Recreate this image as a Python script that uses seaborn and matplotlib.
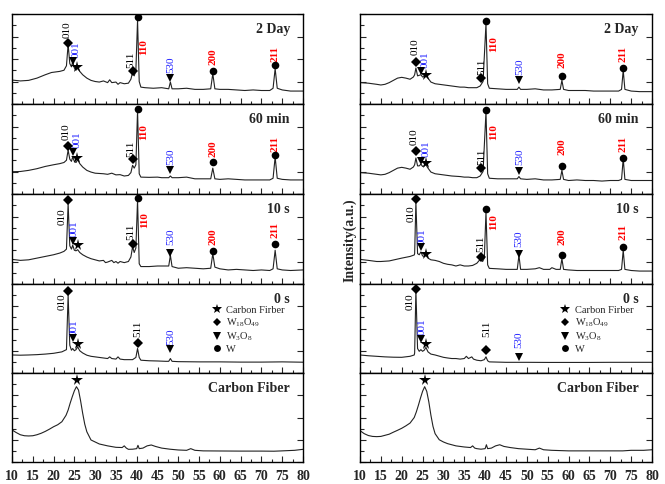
import matplotlib
matplotlib.use("Agg")
import matplotlib.pyplot as plt
import seaborn as sns
import pandas as pd
from matplotlib.ticker import MultipleLocator
from matplotlib.lines import Line2D

# ---------------- data (2theta in degrees, intensity in a.u.) ----------------
# Left column
L_2day_x = [10, 12, 14, 16, 18, 19.5, 20.5, 21.5, 22.5, 23.1, 23.5, 23.9, 24.3, 24.6, 25.0, 25.4, 25.8, 26.3, 27, 28, 29, 30, 31, 32, 33, 33.5, 34, 35, 35.5, 36, 37, 38, 38.6, 39.0, 39.4, 39.8, 40.2, 40.6, 41, 42, 44, 46, 47.7, 48.1, 48.5, 50, 52, 54, 56, 57.8, 58.3, 58.8, 60, 62, 64, 66, 68, 70, 72, 72.8, 73.3, 73.8, 75, 77, 80]
L_2day_y = [2.13, 2.05, 2.1, 2.3, 2.6, 2.8, 2.85, 2.9, 3.0, 3.4, 5.3, 3.6, 3.3, 3.75, 3.2, 3.0, 3.3, 2.9, 2.6, 2.3, 2.1, 2.0, 1.95, 2.05, 1.9, 2.15, 1.9, 1.95, 1.75, 1.9, 1.8, 1.85, 2.2, 2.8, 2.5, 3.0, 7.45, 2.0, 1.5, 1.45, 1.4, 1.45, 1.35, 1.95, 1.35, 1.35, 1.4, 1.3, 1.3, 1.35, 2.7, 1.35, 1.3, 1.3, 1.25, 1.2, 1.25, 1.2, 1.2, 1.4, 3.15, 1.4, 1.25, 1.15, 1.15]

L_60min_x = [10, 12, 14, 16, 18, 20, 21.5, 22.5, 23.1, 23.5, 23.9, 24.3, 24.6, 25.0, 25.4, 25.8, 26.3, 27, 28, 29, 30, 32, 33, 34, 35, 36, 37, 38, 38.6, 39.0, 39.4, 39.8, 40.2, 40.6, 41, 43, 45, 46, 47.7, 48.1, 48.5, 50, 52, 54, 56, 57.8, 58.3, 58.8, 60, 62, 64, 66, 68, 70, 72, 72.8, 73.3, 73.8, 75, 77, 80]
L_60min_y = [1.98, 2.0, 2.1, 2.25, 2.45, 2.6, 2.7, 2.8, 3.0, 3.9, 3.1, 2.9, 3.3, 2.9, 2.8, 3.05, 2.7, 2.4, 2.1, 1.95, 1.85, 1.8, 1.75, 1.85, 1.7, 1.72, 1.6, 1.65, 1.9, 2.55, 2.3, 2.6, 7.4, 1.8, 1.5, 1.48, 1.5, 1.45, 1.45, 1.6, 1.45, 1.45, 1.5, 1.35, 1.35, 1.35, 2.3, 1.35, 1.3, 1.35, 1.3, 1.25, 1.25, 1.25, 1.25, 1.4, 3.3, 1.4, 1.3, 1.25, 1.25]

L_10s_x = [10, 12, 14, 16, 18, 20, 21.5, 22.5, 23.1, 23.5, 23.9, 24.3, 24.6, 25.0, 25.4, 25.8, 26.3, 27, 28, 29, 30, 31, 32, 32.5, 33, 34, 34.5, 35, 35.5, 36, 37, 38, 38.6, 39.0, 39.4, 39.8, 40.2, 40.6, 41, 43, 45, 47, 47.7, 48.1, 48.5, 50, 52, 54, 56, 57.8, 58.3, 58.8, 60, 62, 64, 66, 68, 70, 72, 72.8, 73.3, 73.8, 75, 77, 80]
L_10s_y = [2.19, 2.1, 2.15, 2.3, 2.45, 2.6, 2.75, 2.9, 3.1, 7.15, 3.4, 3.1, 3.45, 3.0, 2.95, 3.05, 2.8, 2.6, 2.4, 2.25, 2.15, 2.05, 2.1, 1.9, 1.95, 2.1, 1.9, 2.0, 1.85, 2.0, 1.9, 2.0, 2.4, 3.3, 2.8, 3.2, 7.45, 1.8, 1.55, 1.55, 1.6, 1.6, 1.6, 2.55, 1.55, 1.4, 1.45, 1.4, 1.35, 1.4, 2.7, 1.5, 1.35, 1.25, 1.3, 1.25, 1.2, 1.25, 1.2, 1.35, 3.0, 1.35, 1.25, 1.2, 1.25]

L_0s_x = [10, 12, 14, 16, 18, 20, 22, 23.1, 23.5, 23.9, 24.3, 24.6, 25.0, 25.4, 25.8, 26.3, 27, 28, 29, 30, 31, 32, 33, 33.5, 34, 35, 35.5, 36, 37, 38, 39, 39.8, 40.2, 40.6, 41, 43, 45, 47, 47.7, 48.1, 48.5, 50, 55, 60, 65, 70, 75, 80]
L_0s_y = [1.62, 1.6, 1.62, 1.65, 1.7, 1.77, 1.9, 2.1, 7.0, 2.5, 2.05, 2.2, 2.0, 2.1, 2.35, 2.0, 1.8, 1.6, 1.5, 1.45, 1.4, 1.35, 1.3, 1.45, 1.3, 1.25, 1.45, 1.25, 1.2, 1.2, 1.2, 1.4, 2.2, 1.4, 1.15, 1.1, 1.08, 1.05, 1.05, 1.3, 1.05, 1.02, 1.0, 1.0, 0.98, 0.98, 1.0, 0.97]

L_cf_x = [10, 11, 12, 13, 14, 15, 16, 17, 18, 19, 20, 21, 22, 23, 23.5, 24, 24.5, 25, 25.5, 26, 26.5, 27, 27.5, 28, 29, 30, 31, 33, 35, 36.5, 37, 37.5, 38, 39, 40, 40.3, 40.6, 41.5, 42.5, 43.5, 44.5, 46, 48, 50, 52, 53, 54, 56, 60, 65, 70, 73, 75, 78, 80]
L_cf_y = [2.88, 2.65, 2.45, 2.36, 2.34, 2.36, 2.45, 2.58, 2.75, 2.95, 3.17, 3.35, 3.62, 4.2, 4.67, 5.3, 5.87, 6.4, 6.77, 6.47, 5.5, 4.38, 3.4, 2.72, 1.98, 1.8, 1.62, 1.45, 1.32, 1.3, 1.45, 1.25, 1.14, 1.15, 1.2, 1.5, 1.2, 1.25, 1.45, 1.53, 1.4, 1.25, 1.15, 1.08, 1.05, 1.2, 1.05, 1.0, 0.99, 0.98, 0.98, 0.97, 1.0, 1.05, 1.14]

# Right column
R_2day_x = [10, 12, 14, 15, 16, 17, 18, 19, 20, 21, 22, 22.8, 23.1, 23.4, 23.8, 24.2, 24.6, 25.0, 25.4, 25.8, 26.3, 27, 28, 30, 32, 34, 35, 36, 37, 38, 38.8, 39.5, 40.2, 40.6, 41, 43, 45, 47.7, 48.1, 48.5, 50, 52, 54, 56, 58, 58.4, 58.8, 60, 62, 64, 66, 68, 70, 72, 72.7, 73.1, 73.5, 75, 77, 80]
R_2day_y = [1.9, 1.85, 1.75, 1.69, 1.75, 1.9, 2.1, 2.3, 2.37, 2.3, 2.2, 2.4, 2.6, 3.2, 2.5, 2.55, 2.6, 2.4, 2.45, 2.6, 2.3, 1.95, 1.8, 1.7, 1.6, 1.5, 1.5, 1.45, 1.45, 1.45, 1.6, 2.0, 7.15, 1.8, 1.4, 1.35, 1.3, 1.3, 1.5, 1.3, 1.3, 1.35, 1.25, 1.25, 1.3, 2.1, 1.3, 1.2, 1.2, 1.2, 1.15, 1.15, 1.15, 1.15, 1.3, 3.0, 1.3, 1.15, 1.1, 1.1]

R_60min_x = [10, 12, 14, 15, 16, 17, 18, 19, 20, 21, 22, 22.8, 23.1, 23.4, 23.8, 24.2, 24.6, 25.0, 25.4, 25.8, 26.3, 27, 28, 30, 32, 34, 35, 36, 37, 38, 38.8, 39.5, 40.2, 40.6, 41, 43, 45, 47.7, 48.1, 48.5, 50, 52, 54, 56, 58, 58.4, 58.8, 60, 62, 64, 66, 68, 70, 72, 72.7, 73.1, 73.5, 75, 77, 80]
R_60min_y = [1.9, 1.85, 1.75, 1.7, 1.75, 1.9, 2.1, 2.3, 2.37, 2.3, 2.2, 2.4, 2.6, 3.2, 2.5, 2.5, 2.65, 2.45, 2.5, 2.6, 2.3, 1.95, 1.8, 1.7, 1.6, 1.55, 1.5, 1.5, 1.45, 1.45, 1.6, 2.0, 7.3, 1.8, 1.4, 1.35, 1.35, 1.35, 1.55, 1.35, 1.3, 1.35, 1.25, 1.25, 1.3, 2.1, 1.3, 1.2, 1.25, 1.2, 1.2, 1.15, 1.2, 1.2, 1.3, 3.15, 1.3, 1.2, 1.2, 1.2]

R_10s_x = [10, 12, 14, 15, 17, 20, 22, 23, 23.1, 23.4, 23.8, 24.2, 24.6, 25.0, 25.4, 25.8, 26.3, 27, 28, 29, 30, 31, 32, 33, 34, 35, 36, 37, 38, 38.6, 39.0, 39.4, 39.8, 40.2, 40.6, 41, 43, 45, 47.7, 48.1, 48.5, 50, 52, 53, 54, 55.5, 56, 57, 58, 58.4, 58.8, 60, 62, 64, 66, 68, 70, 72, 72.7, 73.1, 73.5, 75, 77, 80]
R_10s_y = [2.19, 2.1, 2.0, 2.0, 2.05, 2.3, 2.45, 2.58, 2.7, 7.3, 2.7, 2.6, 2.85, 2.5, 2.45, 2.55, 2.3, 2.15, 2.1, 2.0, 1.84, 1.75, 1.7, 1.6, 1.7, 1.6, 1.6, 1.65, 1.84, 2.1, 2.2, 2.0, 2.3, 6.4, 1.7, 1.39, 1.35, 1.3, 1.3, 2.55, 1.3, 1.3, 1.35, 1.45, 1.3, 1.3, 1.45, 1.3, 1.3, 2.25, 1.3, 1.25, 1.2, 1.2, 1.2, 1.2, 1.2, 1.2, 1.3, 3.0, 1.3, 1.2, 1.15, 1.15]

R_0s_x = [10, 12, 14, 16, 18, 20, 22, 23, 23.1, 23.4, 23.8, 24.2, 24.6, 25.0, 25.4, 25.8, 26.3, 27, 28, 30, 31, 32, 33, 34, 35, 35.5, 36, 36.8, 37.2, 38, 39, 39.8, 40.2, 40.6, 41, 43, 45, 50, 55, 60, 65, 70, 75, 80]
R_0s_y = [1.62, 1.55, 1.5, 1.45, 1.42, 1.41, 1.5, 1.62, 1.8, 7.45, 2.2, 1.95, 2.1, 1.95, 2.05, 2.3, 1.9, 1.7, 1.62, 1.41, 1.35, 1.3, 1.3, 1.25, 1.3, 1.5, 1.3, 1.45, 1.25, 1.15, 1.1, 1.2, 1.45, 1.1, 1.0, 0.98, 0.96, 0.96, 0.95, 0.95, 0.95, 0.96, 0.96, 0.96]

R_cf_x = [10, 11, 12, 13, 14, 15, 16, 17, 18, 19, 20, 21, 22, 23, 23.5, 24, 24.5, 25, 25.5, 26, 26.5, 27, 27.5, 28, 29, 30, 31, 33, 35, 36.5, 37, 37.5, 38, 39, 40, 40.3, 40.6, 41.5, 42.5, 43.5, 44.5, 46, 48, 50, 52, 53, 54, 56, 60, 65, 70, 73, 75, 78, 80]
R_cf_y = [2.82, 2.55, 2.38, 2.3, 2.28, 2.3, 2.4, 2.5, 2.68, 2.85, 3.03, 3.25, 3.5, 4.0, 4.5, 5.1, 5.75, 6.35, 6.77, 6.35, 5.4, 4.2, 3.2, 2.55, 2.0, 1.8, 1.65, 1.45, 1.35, 1.3, 1.45, 1.25, 1.2, 1.15, 1.2, 1.55, 1.2, 1.25, 1.45, 1.55, 1.4, 1.3, 1.2, 1.15, 1.1, 1.25, 1.1, 1.05, 1.0, 1.0, 1.0, 1.0, 1.05, 1.05, 1.1]

# Phase markers: (phase, 2theta, height)
L_2day_mk = [("w18", 23.5, 5.45), ("w3", 24.6, 3.82), ("cf", 25.7, 3.32), ("w18", 39.0, 2.93), ("w", 40.2, 7.7), ("w3", 48.1, 2.34), ("w", 58.3, 2.93), ("w", 73.3, 3.47)]
L_60min_mk = [("w18", 23.5, 4.27), ("w3", 24.6, 3.76), ("cf", 25.7, 3.17), ("w18", 39.0, 3.08), ("w", 40.2, 7.56), ("w3", 48.1, 2.13), ("w", 58.3, 2.87), ("w", 73.3, 3.47)]
L_10s_mk = [("w18", 23.5, 7.47), ("w3", 24.6, 3.82), ("cf", 25.8, 3.47), ("w18", 39.0, 3.53), ("w", 40.2, 7.62), ("w3", 48.1, 2.78), ("w", 58.3, 2.93), ("w", 73.3, 3.53)]
L_0s_mk = [("w18", 23.5, 7.4), ("w3", 24.6, 3.12), ("cf", 25.8, 2.61), ("w18", 40.2, 2.72), ("w3", 48.1, 2.16)]
L_cf_mk = [("cf", 25.7, 7.37)]
R_2day_mk = [("w18", 23.4, 3.7), ("w3", 24.6, 2.93), ("cf", 25.8, 2.58), ("w18", 39.0, 2.28), ("w", 40.2, 7.4), ("w3", 48.1, 2.13), ("w", 58.4, 2.49), ("w", 73.1, 3.23)]
R_60min_mk = [("w18", 23.4, 3.82), ("w3", 24.6, 2.96), ("cf", 25.8, 2.78), ("w18", 39.0, 2.28), ("w", 40.2, 7.47), ("w3", 48.1, 2.04), ("w", 58.4, 2.49), ("w", 73.1, 3.23)]
R_10s_mk = [("w18", 23.4, 7.53), ("w3", 24.6, 3.32), ("cf", 25.8, 2.67), ("w18", 39.0, 2.37), ("w", 40.2, 6.64), ("w3", 48.1, 2.67), ("w", 58.4, 2.58), ("w", 73.1, 3.32)]
R_0s_mk = [("w18", 23.4, 7.52), ("w3", 24.6, 3.06), ("cf", 25.8, 2.61), ("w18", 40.2, 2.04), ("w3", 48.1, 1.41)]
R_cf_mk = [("cf", 25.7, 7.37)]

# Miller index labels: (text, 2theta, bottom of text)
L_2day_hkl = [("010", 23.2, 5.87), ("001", 25.5, 4.09), ("511", 38.7, 3.2), ("110", 41.7, 4.36), ("530", 48.1, 2.76), ("200", 58.3, 3.47), ("211", 73.3, 3.73)]
L_60min_hkl = [("010", 23.0, 4.8), ("001", 25.7, 4.09), ("511", 38.7, 3.29), ("110", 41.7, 4.8), ("530", 48.1, 2.58), ("200", 58.3, 3.32), ("211", 73.3, 3.76)]
L_10s_hkl = [("010", 22.0, 5.24), ("001", 24.9, 4.21), ("511", 38.6, 3.91), ("110", 41.8, 4.95), ("530", 48.1, 3.47), ("200", 58.3, 3.47), ("211", 73.3, 4.06)]
L_0s_hkl = [("010", 22.0, 5.66), ("001", 24.9, 3.35), ("511", 40.2, 3.26), ("530", 48.1, 2.52)]
R_2day_hkl = [("010", 23.1, 4.36), ("001", 25.7, 3.17), ("511", 39.2, 2.6), ("110", 42.0, 4.65), ("530", 48.4, 2.58), ("200", 58.4, 3.17), ("211", 73.1, 3.76)]
R_60min_hkl = [("010", 23.0, 4.36), ("001", 25.8, 3.32), ("511", 39.2, 2.58), ("110", 42.0, 4.8), ("530", 48.4, 2.58), ("200", 58.4, 3.47), ("211", 73.1, 3.76)]
R_10s_hkl = [("010", 22.2, 5.54), ("001", 25.0, 3.47), ("511", 39.0, 2.87), ("110", 42.0, 4.8), ("530", 48.1, 3.32), ("200", 58.4, 3.47), ("211", 73.1, 3.91)]
R_0s_hkl = [("010", 22.0, 5.66), ("001", 25.0, 3.42), ("511", 40.4, 3.26), ("530", 48.1, 2.22)]

panel_titles = ["2 Day", "60 min", "10 s", "0 s", "Carbon Fiber"]
x_tick_labels = [str(v) for v in range(10, 85, 5)]
legend_labels = ["Carbon Firber", "W$_{18}$O$_{49}$", "W$_3$O$_8$", "W"]

# ---------------- style ----------------
sns.set_theme(style="ticks")
plt.rcParams["font.family"] = ["Liberation Serif", "DejaVu Serif"]
plt.rcParams["mathtext.fontset"] = "custom"
plt.rcParams["mathtext.rm"] = "Liberation Serif"
plt.rcParams["mathtext.it"] = "Liberation Serif"

phase_marker = {"cf": "*", "w18": "D", "w3": "v", "w": "o"}
phase_size = {"cf": 8.5, "w18": 5.0, "w3": 6.0, "w": 5.5}
hkl_color = {"010": "black", "511": "black", "001": "#2020ff", "530": "#2020ff",
             "110": "#ff0000", "200": "#ff0000", "211": "#ff0000"}

W, H = 665, 484
fig = plt.figure(figsize=(6.65, 4.84), dpi=100)

tops = [14, 104, 194, 284, 373, 462]
cols = [(12, 291), (360, 292)]

left_panels = [(L_2day_x, L_2day_y, L_2day_mk, L_2day_hkl),
               (L_60min_x, L_60min_y, L_60min_mk, L_60min_hkl),
               (L_10s_x, L_10s_y, L_10s_mk, L_10s_hkl),
               (L_0s_x, L_0s_y, L_0s_mk, L_0s_hkl),
               (L_cf_x, L_cf_y, L_cf_mk, [])]
right_panels = [(R_2day_x, R_2day_y, R_2day_mk, R_2day_hkl),
                (R_60min_x, R_60min_y, R_60min_mk, R_60min_hkl),
                (R_10s_x, R_10s_y, R_10s_mk, R_10s_hkl),
                (R_0s_x, R_0s_y, R_0s_mk, R_0s_hkl),
                (R_cf_x, R_cf_y, R_cf_mk, [])]

for (cx, cw), panels in zip(cols, [left_panels, right_panels]):
    for i, (xs, ys, mks, hkls) in enumerate(panels):
        y0, y1 = tops[i], tops[i + 1]
        ax = fig.add_axes([cx / W, 1 - y1 / H, cw / W, (y1 - y0) / H])
        df = pd.DataFrame({"two_theta": xs, "intensity": ys})
        sns.lineplot(data=df, x="two_theta", y="intensity", ax=ax, color="#222222",
                     lw=0.8, sort=False, estimator=None)
        for ph, px, py in mks:
            ax.plot(px, py, marker=phase_marker[ph], ms=phase_size[ph], color="black",
                    ls="none", mew=0, zorder=4)
        for txt, tx, ty in hkls:
            bold = txt in ("110", "200", "211")
            ax.text(tx, ty, txt, rotation=90, ha="center", va="bottom", fontsize=8,
                    color=hkl_color[txt], fontweight="bold" if bold else "normal")
        ax.text(0.955, 0.83, panel_titles[i], transform=ax.transAxes, ha="right",
                va="center", fontsize=10, fontweight="bold")
        ax.set_xlim(10, 80)
        ax.set_ylim(0, 8)
        ax.set_xlabel("")
        ax.set_ylabel("")
        ax.xaxis.set_major_locator(MultipleLocator(5))
        ax.xaxis.set_minor_locator(MultipleLocator(2.5))
        ax.yaxis.set_major_locator(MultipleLocator(2))
        ax.yaxis.set_minor_locator(MultipleLocator(1))
        ax.tick_params(axis="x", which="major", direction="in", length=4, width=0.8,
                       bottom=True, top=False)
        ax.tick_params(axis="x", which="minor", direction="in", length=2.5, width=0.8,
                       bottom=True, top=False)
        ax.tick_params(axis="y", which="major", direction="in", length=4, width=0.8,
                       left=True, right=True, labelleft=False)
        ax.tick_params(axis="y", which="minor", direction="in", length=3, width=0.8,
                       left=True, right=False)
        for s in ax.spines.values():
            s.set_linewidth(1.0)
            s.set_color("black")
        if i == 4:
            ax.set_xticks(range(10, 85, 5))
            ax.set_xticklabels(x_tick_labels, fontsize=10, fontweight="bold")
            ax.tick_params(axis="x", pad=6)
        else:
            ax.tick_params(axis="x", labelbottom=False)
        if i == 3:
            handles = [Line2D([], [], ls="none", marker=phase_marker[p], ms=phase_size[p] * 0.9,
                              color="black", mew=0) for p in ["cf", "w18", "w3", "w"]]
            ax.legend(handles, legend_labels, loc="upper left", bbox_to_anchor=(0.685, 0.76),
                      frameon=False, fontsize=7.5, handlelength=1.0, handletextpad=0.4,
                      labelspacing=0.15, borderpad=0, borderaxespad=0)

fig.text(350 / W, 1 - 240 / H, "Intensity(a.u.)", rotation=90, ha="center", va="center",
         fontsize=10, fontweight="bold")

fig.savefig("out.png", dpi=100)
